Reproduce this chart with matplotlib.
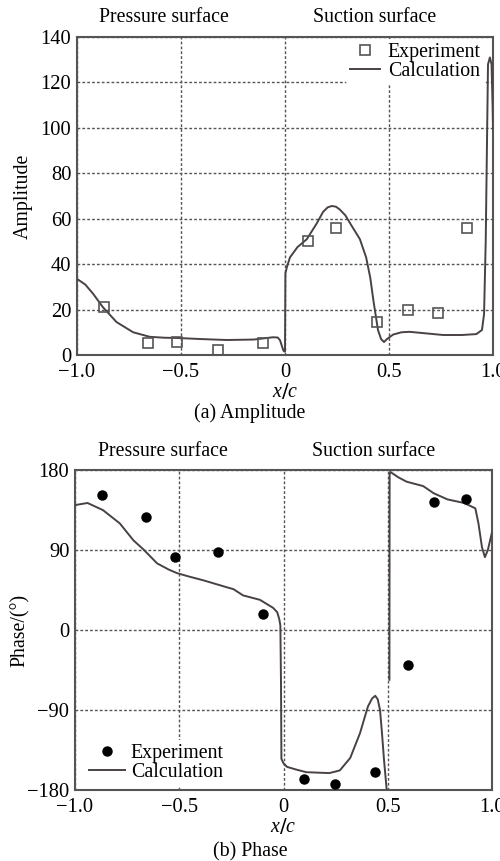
import matplotlib
matplotlib.use("Agg")
import matplotlib.pyplot as plt
import numpy as np

plt.rcParams['font.family'] = ['Liberation Serif', 'DejaVu Serif']
plt.rcParams['mathtext.fontset'] = 'custom'
plt.rcParams['mathtext.it'] = 'Liberation Serif:italic'

# ---------------- data: amplitude ----------------
amp_exp_x = [-0.87, -0.66, -0.52, -0.32, -0.105, 0.11, 0.245, 0.44, 0.59, 0.735, 0.875]
amp_exp_y = [21, 5.3, 5.7, 2.2, 5.3, 50, 56, 14.5, 20, 18.5, 56]

amp_calc_x = [-1.0, -0.96, -0.923, -0.875, -0.81, -0.73, -0.65, -0.58, -0.52, -0.4, -0.28,
              -0.15, -0.058, -0.035, -0.024, -0.015, -0.008, -0.003, 0.0, 0.002, 0.01,
              0.024, 0.06, 0.105, 0.153, 0.183, 0.205, 0.225, 0.245, 0.264, 0.29, 0.313,
              0.36, 0.39, 0.41, 0.425, 0.447, 0.462, 0.476, 0.49, 0.52, 0.56, 0.60, 0.68,
              0.76, 0.85, 0.92, 0.947, 0.957, 0.965, 0.976, 0.985, 0.993, 0.998, 1.0]
amp_calc_y = [33.5, 31, 27, 21, 14.5, 10, 8, 7.6, 7.5, 7, 6.6,
              6.8, 7.8, 7.7, 6.5, 4, 2, 1.5, 1.5, 36, 39,
              43, 47.5, 51, 58, 63, 65, 65.6, 65.3, 64, 61.5, 58,
              51, 43, 34, 24, 11, 7, 5.7, 7, 9, 10, 10.2, 9.5,
              8.8, 8.8, 9.2, 11, 18, 50, 128, 131, 128, 110, 100]

# ---------------- data: phase ----------------
ph_exp_x = [-0.87, -0.66, -0.52, -0.315, -0.10, 0.10, 0.245, 0.44, 0.595, 0.72, 0.875]
ph_exp_y = [152, 127, 82, 88, 18, -168, -173, -160, -39, 144, 148]

ph_calc_x = [-1.0, -0.94, -0.866, -0.785, -0.72, -0.673, -0.606, -0.55, -0.51, -0.45, -0.385,
             -0.27, -0.24, -0.194, -0.113, -0.05, -0.03, -0.02, -0.015, -0.012, -0.01, 0.0,
             0.017, 0.06, 0.11, 0.22, 0.27, 0.32, 0.367, 0.405, 0.425, 0.44, 0.452, 0.463,
             0.472, 0.482, 0.495, np.nan, 0.508, 0.509, 0.512, 0.55, 0.59, 0.67, 0.72, 0.787,
             0.866, 0.92, 0.935, 0.952, 0.966, 0.98, 1.0]
ph_calc_y = [140.6, 143, 135, 120, 101, 91, 75, 68, 64, 60, 56,
             48, 46, 39, 34, 25, 20, 12, 5, -60, -145, -150,
             -154, -157, -160, -161, -158, -144, -116, -86, -77, -74, -78, -90,
             -115, -146, -180, np.nan, -56, 175, 178, 172, 167, 162, 154, 147,
             143, 137, 120, 93, 82, 90, 110]

amp_yticks = [0, 20, 40, 60, 80, 100, 120, 140]
ph_yticks = [-180, -90, 0, 90, 180]
x_ticks = [-1.0, -0.5, 0.0, 0.5, 1.0]
x_ticklabels = ['\u22121.0', '\u22120.5', '0', '0.5', '1.0']

line_col = '#4a4242'
frame_col = '#555555'
grid_col = '#555555'
fs = 14.3
tfs = 14.8

fig = plt.figure(figsize=(5.0, 8.61), dpi=100)
ax1 = fig.add_axes([0.154, 0.5877, 0.832, 0.3693])
ax2 = fig.add_axes([0.150, 0.0825, 0.834, 0.3715])


def style(ax, yticks, ylabels):
    ax.set_xlim(-1, 1)
    ax.set_xticks(x_ticks)
    ax.set_xticklabels(x_ticklabels)
    ax.set_yticks(yticks)
    ax.set_yticklabels(ylabels)
    ax.tick_params(axis='y', length=0, labelsize=tfs, pad=4, colors='black')
    ax.tick_params(axis='x', length=0, labelsize=tfs, pad=6, colors='black')
    ax.grid(True, linestyle=(0, (2, 1.5)), color=grid_col, linewidth=1.0)
    for s in ax.spines.values():
        s.set_color(frame_col)
        s.set_linewidth(1.5)
    ax.set_axisbelow(True)


# amplitude
ax1.plot(amp_calc_x, amp_calc_y, color=line_col, lw=1.4, label='Calculation', zorder=3)
ax1.plot(amp_exp_x, amp_exp_y, linestyle='none', marker='s', markersize=7,
         markerfacecolor='none', markeredgecolor='#555555', markeredgewidth=1.2,
         label='Experiment', zorder=4)
ax1.set_ylim(0, 140)
style(ax1, amp_yticks, [str(v) for v in amp_yticks])
ax1.set_xlabel('$x/c$', fontsize=fs, labelpad=0)
ax1.set_ylabel('Amplitude', fontsize=fs, labelpad=6)
h, l = ax1.get_legend_handles_labels()
leg1 = ax1.legend(h[::-1], l[::-1], loc='upper right', bbox_to_anchor=(0.985, 1.0),
                  fontsize=fs, frameon=True, facecolor='white', edgecolor='none',
                  framealpha=1, handlelength=1.5, handletextpad=0.4, borderpad=0.2,
                  labelspacing=0.0, borderaxespad=0.1)
leg1.get_frame().set_linewidth(0)
ax1.text(0.21, 1.03, 'Pressure surface', transform=ax1.transAxes, ha='center',
         va='bottom', fontsize=fs)
ax1.text(0.716, 1.03, 'Suction surface', transform=ax1.transAxes, ha='center',
         va='bottom', fontsize=fs)
fig.text(0.5, 1 - 413 / 861, '(a) Amplitude', ha='center', va='center', fontsize=fs)

# phase
ax2.plot(ph_calc_x, ph_calc_y, color=line_col, lw=1.4, label='Calculation', zorder=3)
ax2.plot(ph_exp_x, ph_exp_y, linestyle='none', marker='o', markersize=6.5,
         color='black', label='Experiment', zorder=4)
ax2.set_ylim(-180, 180)
style(ax2, ph_yticks, ['\u2212180', '\u221290', '0', '90', '180'])
ax2.set_xlabel('$x/c$', fontsize=fs, labelpad=0)
ax2.set_ylabel('Phase/(\u00b0)', fontsize=fs, labelpad=-2)
h, l = ax2.get_legend_handles_labels()
leg2 = ax2.legend(h[::-1], l[::-1], loc='lower left', bbox_to_anchor=(0.015, 0.0),
                  fontsize=fs, frameon=True, facecolor='white', edgecolor='none',
                  framealpha=1, handlelength=1.8, handletextpad=0.3, borderpad=0.2,
                  labelspacing=0.0, borderaxespad=0.2)
leg2.get_frame().set_linewidth(0)
ax2.text(0.21, 1.03, 'Pressure surface', transform=ax2.transAxes, ha='center',
         va='bottom', fontsize=fs)
ax2.text(0.716, 1.03, 'Suction surface', transform=ax2.transAxes, ha='center',
         va='bottom', fontsize=fs)
fig.text(0.5, 1 - 852 / 861, '(b) Phase', ha='center', va='center', fontsize=fs)

fig.savefig('out.png', dpi=100)
